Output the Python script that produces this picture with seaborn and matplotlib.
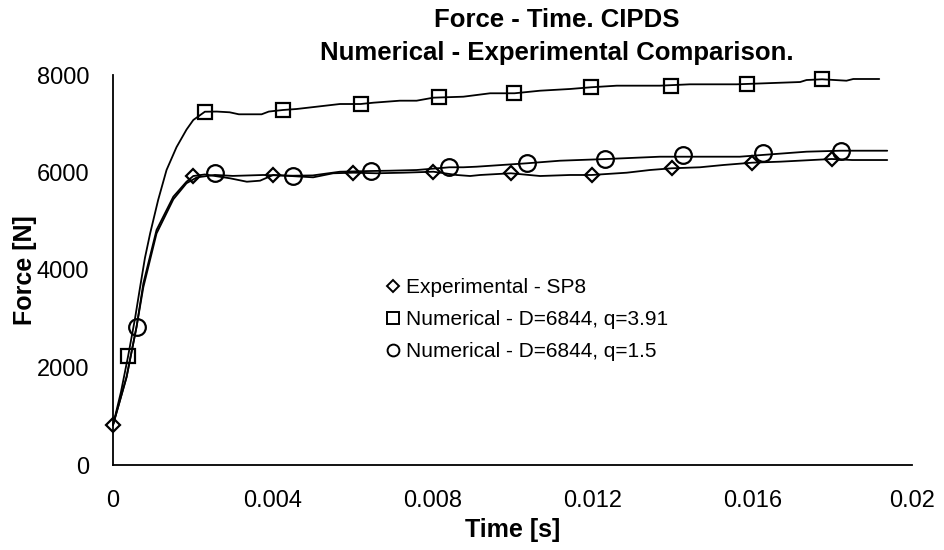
import matplotlib
matplotlib.use("Agg")
import matplotlib.pyplot as plt
import seaborn as sns
import pandas as pd
from matplotlib.lines import Line2D

# ---------------- data ----------------
# Experimental - SP8 (curve)
exp_t = [0, 0.00013, 0.00034, 0.00059, 0.00076, 0.00109, 0.00151, 0.00184, 0.00201,
         0.0023, 0.00293, 0.00335, 0.00368, 0.00401, 0.00501, 0.00551, 0.00602, 0.0066,
         0.00727, 0.00802, 0.0086, 0.00894, 0.00919, 0.00996, 0.01069, 0.01144, 0.01198,
         0.01286, 0.01344, 0.01398, 0.01469, 0.01528, 0.01599, 0.0167, 0.0175, 0.01799,
         0.0185, 0.01938]
exp_f = [820, 1196, 1811, 2837, 3727, 4821, 5504, 5811, 5928,
         5960, 5881, 5811, 5832, 5949, 5901, 5984, 5996, 5984,
         5996, 6016, 5949, 5928, 5949, 5984, 5928, 5949, 5949,
         5996, 6051, 6086, 6107, 6154, 6201, 6222, 6256, 6277,
         6256, 6256]
# Experimental markers
exp_mt = [0, 0.00201, 0.00401, 0.00602, 0.00802, 0.00996, 0.01198, 0.01398, 0.01599, 0.01799]
exp_mf = [820, 5928, 5949, 5996, 6016, 5984, 5949, 6086, 6201, 6277]

# Numerical - D=6844, q=3.91 (curve)
n1_t = [0, 0.0002, 0.00038, 0.00055, 0.00068, 0.0008, 0.00093, 0.00113, 0.00134, 0.00159,
        0.00184, 0.00201, 0.0023, 0.0026, 0.00292, 0.00315, 0.00372, 0.0039, 0.00425, 0.0046,
        0.0051, 0.00568, 0.0062, 0.00652, 0.00718, 0.0076, 0.00802, 0.00877, 0.00944, 0.01005,
        0.01069, 0.01144, 0.01196, 0.01261, 0.01369, 0.01444, 0.01561, 0.0172, 0.01736, 0.01775,
        0.01836, 0.01853, 0.01918]
n1_f = [820, 1500, 2242, 3000, 3658, 4250, 4752, 5436, 6051, 6520,
        6880, 7077, 7247, 7250, 7235, 7194, 7194, 7250, 7282, 7303,
        7350, 7405, 7405, 7432, 7473, 7473, 7535, 7555, 7625, 7625,
        7678, 7713, 7748, 7781, 7781, 7809, 7809, 7856, 7897, 7912,
        7883, 7918, 7918]
n1_mt = [0.00038, 0.0023, 0.00425, 0.0062, 0.00816, 0.01005, 0.01196, 0.01396, 0.01586, 0.01775]
n1_mf = [2242, 7247, 7282, 7405, 7543, 7625, 7748, 7781, 7815, 7912]

# Numerical - D=6844, q=1.5 (curve)
n2_t = [0, 0.00013, 0.00034, 0.00059, 0.00076, 0.00109, 0.00151, 0.00184, 0.0021, 0.00255,
        0.003, 0.00376, 0.0045, 0.005, 0.00568, 0.00646, 0.00693, 0.0076, 0.00842, 0.00877,
        0.0091, 0.01036, 0.01119, 0.01236, 0.01369, 0.01444, 0.01569, 0.01626, 0.01736,
        0.01822, 0.01938]
n2_f = [820, 1196, 1800, 2837, 3650, 4750, 5450, 5780, 5900, 5950,
        5930, 5949, 5934, 5940, 6016, 6031, 6037, 6051, 6107, 6107,
        6119, 6189, 6242, 6277, 6324, 6324, 6324, 6360, 6427,
        6447, 6447]
n2_mt = [0.00059, 0.00255, 0.0045, 0.00646, 0.00842, 0.01036, 0.01232, 0.01426, 0.01626, 0.01822]
n2_mf = [2837, 5990, 5934, 6031, 6107, 6189, 6277, 6359, 6394, 6447]

labels = ["Experimental - SP8", "Numerical - D=6844, q=3.91", "Numerical - D=6844, q=1.5"]
x_ticks = [0, 0.004, 0.008, 0.012, 0.016, 0.02]
x_tick_labels = ["0", "0.004", "0.008", "0.012", "0.016", "0.02"]
y_ticks = [0, 2000, 4000, 6000, 8000]
title_lines = ["Force - Time. CIPDS", "Numerical - Experimental Comparison."]

# ---------------- style ----------------
sns.set_theme(style="white")
plt.rcParams["font.family"] = ["Liberation Sans", "DejaVu Sans"]
plt.rcParams["text.color"] = "black"
plt.rcParams["axes.labelcolor"] = "black"
plt.rcParams["xtick.color"] = "black"
plt.rcParams["ytick.color"] = "black"

fig = plt.figure(figsize=(9.44, 5.5), dpi=100)
ax = fig.add_axes([113 / 944, 1 - 465 / 550, (912 - 113) / 944, (465 - 75) / 550])

line_kw = dict(color="black", linewidth=1.3, estimator=None, sort=False, ax=ax, legend=False)
for t, f in [(exp_t, exp_f), (n1_t, n1_f), (n2_t, n2_f)]:
    sns.lineplot(x=t, y=f, **line_kw)

mk_kw = dict(color="black", linestyle="none", estimator=None, sort=False, ax=ax, legend=False,
             markerfacecolor="none", markeredgecolor="black", markeredgewidth=1.6)
sns.lineplot(x=exp_mt, y=exp_mf, marker="D", markersize=7.5, **mk_kw)
sns.lineplot(x=n1_mt, y=n1_mf, marker="s", markersize=10, **mk_kw)
sns.lineplot(x=n2_mt, y=n2_mf, marker="o", markersize=12, **mk_kw)
for ln in ax.lines:
    ln.set_clip_on(False)

ax.set_xlim(0, 0.02)
ax.set_ylim(0, 8000)
ax.set_xticks(x_ticks)
ax.set_xticklabels(x_tick_labels)
ax.set_yticks(y_ticks)
ax.set_yticklabels([str(v) for v in y_ticks])

for s in ["top", "right"]:
    ax.spines[s].set_visible(False)
for s in ["left", "bottom"]:
    ax.spines[s].set_color("black")
    ax.spines[s].set_linewidth(1.3)

ax.tick_params(axis="both", which="major", direction="out", length=6, width=1.3,
               color="black", labelsize=17, labelcolor="black")
ax.tick_params(axis="y", pad=11)
ax.tick_params(axis="x", pad=12)
ax.grid(False)

ax.set_xlabel("Time [s]", fontsize=18, fontweight="bold", labelpad=4, color="black")
ax.set_ylabel("Force [N]", fontsize=18, fontweight="bold", labelpad=0, color="black")

fig.text(557 / 944, 1 - 20 / 550, title_lines[0], ha="center", va="center",
         fontsize=18.5, fontweight="bold", color="black")
fig.text(557 / 944, 1 - 53 / 550, title_lines[1], ha="center", va="center",
         fontsize=18.5, fontweight="bold", color="black")

handles = [
    Line2D([], [], linestyle="none", marker="D", markersize=6, markerfacecolor="none",
           markeredgecolor="black", markeredgewidth=1.4),
    Line2D([], [], linestyle="none", marker="s", markersize=9, markerfacecolor="none",
           markeredgecolor="black", markeredgewidth=1.4),
    Line2D([], [], linestyle="none", marker="o", markersize=8.5, markerfacecolor="none",
           markeredgecolor="black", markeredgewidth=1.4),
]
leg = fig.legend(handles, labels, loc="upper left", bbox_to_anchor=(386 / 944, 1 - 278 / 550),
                 frameon=False, fontsize=15, handlelength=0.7, handletextpad=0.25,
                 labelspacing=0.62, borderpad=0, borderaxespad=0)
for txt in leg.get_texts():
    txt.set_color("black")

fig.savefig("out.png", dpi=100, facecolor="white")
